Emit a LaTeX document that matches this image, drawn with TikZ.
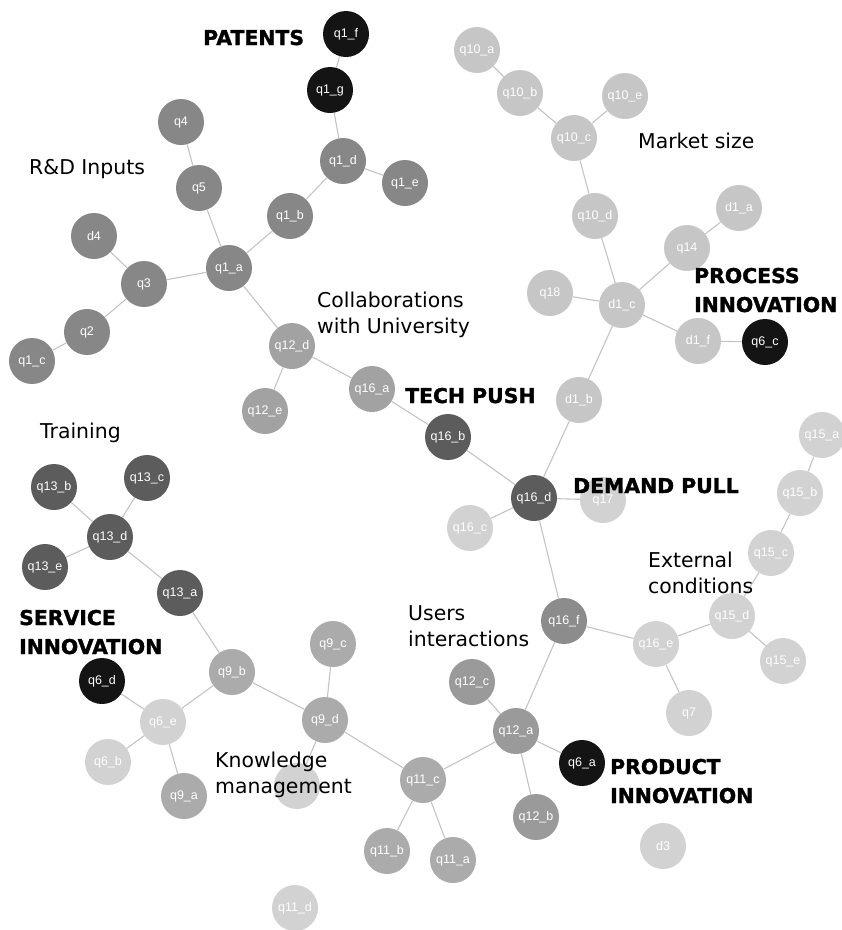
\documentclass[tikz,border=0pt]{standalone}
\usepackage{fontspec}
\setmainfont{DejaVu Sans}
\newfontfamily\nodefont{Liberation Sans}
\newfontfamily\heavyfont{DejaVu Sans Bold}[FakeBold=1.5]
\definecolor{cblack}{HTML}{141414}
\definecolor{cdark}{HTML}{5C5C5C}
\definecolor{cmid}{HTML}{878787}
\definecolor{cmidb}{HTML}{8C8C8C}
\definecolor{cmidc}{HTML}{9A9A9A}
\definecolor{cmidd}{HTML}{A2A2A2}
\definecolor{cmide}{HTML}{ABABAB}
\definecolor{clight}{HTML}{C6C6C6}
\definecolor{clighter}{HTML}{D2D2D2}
\definecolor{cedge}{HTML}{C4C4C4}
\tikzset{
  nd/.style={circle, minimum size=46pt, inner sep=0pt, text=white, font=\nodefont\fontsize{12.5}{13}\selectfont},
  lbl/.style={anchor=base west, align=left, inner sep=0pt, text=black, font=\fontsize{20.4}{26}\selectfont},
  blbl/.style={anchor=base west, align=left, inner sep=0pt, text=black, font=\heavyfont\fontsize{20.4}{29}\selectfont}
}
\begin{document}
\begin{tikzpicture}[x=1pt,y=-1pt]
\useasboundingbox (0,0) rectangle (842,930);
\fill[white] (0,0) rectangle (842,930);
% nodes
\node[nd, fill=cblack] (q1f) at (346,34) {q1\_f};
\node[nd, fill=cblack] (q1g) at (330,90) {q1\_g};
\node[nd, fill=cmid] (q1d) at (343,161) {q1\_d};
\node[nd, fill=cmid] (q1e) at (405,183) {q1\_e};
\node[nd, fill=cmid] (q1b) at (290,216) {q1\_b};
\node[nd, fill=cmid] (q1a) at (229,268) {q1\_a};
\node[nd, fill=cmid] (q5) at (199,188) {q5};
\node[nd, fill=cmid] (q4) at (181,122) {q4};
\node[nd, fill=cmid] (d4) at (94,236) {d4};
\node[nd, fill=cmid] (q3) at (144,284) {q3};
\node[nd, fill=cmid] (q2) at (87,332) {q2};
\node[nd, fill=cmid] (q1c) at (32,361) {q1\_c};
\node[nd, fill=cmidd] (q12d) at (292,346) {q12\_d};
\node[nd, fill=cmidd] (q12e) at (265,411) {q12\_e};
\node[nd, fill=cmidd] (q16a) at (372,389) {q16\_a};
\node[nd, fill=cdark] (q16b) at (448,437) {q16\_b};
\node[nd, fill=cdark] (q16d) at (534,498) {q16\_d};
\node[nd, fill=clighter] (q17) at (603,500) {q17};
\node[nd, fill=clighter] (q16c) at (470,528) {q16\_c};
\node[nd, fill=clight] (d1b) at (579,400) {d1\_b};
\node[nd, fill=clight] (d1c) at (622,305) {d1\_c};
\node[nd, fill=clight] (q18) at (550,293) {q18};
\node[nd, fill=clight] (q14) at (687,248) {q14};
\node[nd, fill=clight] (d1a) at (739,208) {d1\_a};
\node[nd, fill=clight] (d1f) at (698,341) {d1\_f};
\node[nd, fill=cblack] (q6c) at (765,342) {q6\_c};
\node[nd, fill=clight] (q10d) at (595,216) {q10\_d};
\node[nd, fill=clight] (q10c) at (574,138) {q10\_c};
\node[nd, fill=clight] (q10e) at (625,96) {q10\_e};
\node[nd, fill=clight] (q10b) at (520,93) {q10\_b};
\node[nd, fill=clight] (q10a) at (477,50) {q10\_a};
\node[nd, fill=cmidb] (q16f) at (564,621) {q16\_f};
\node[nd, fill=clighter] (q16e) at (656,644) {q16\_e};
\node[nd, fill=clighter] (q15d) at (732,616) {q15\_d};
\node[nd, fill=clighter] (q15e) at (783,661) {q15\_e};
\node[nd, fill=clighter] (q15c) at (771,553) {q15\_c};
\node[nd, fill=clighter] (q15b) at (800,493) {q15\_b};
\node[nd, fill=clighter] (q15a) at (822,435) {q15\_a};
\node[nd, fill=clighter] (q7) at (689,713) {q7};
\node[nd, fill=cmidc] (q12a) at (516,731) {q12\_a};
\node[nd, fill=cmidc] (q12c) at (472,682) {q12\_c};
\node[nd, fill=cmidc] (q12b) at (536,817) {q12\_b};
\node[nd, fill=cblack] (q6a) at (582,763) {q6\_a};
\node[nd, fill=cmide] (q11c) at (423,780) {q11\_c};
\node[nd, fill=cmide] (q11b) at (387,851) {q11\_b};
\node[nd, fill=cmide] (q11a) at (453,860) {q11\_a};
\node[nd, fill=clighter] (q11d) at (295,908) {q11\_d};
\node[nd, fill=clighter] (d3) at (663,846) {d3};
\node[nd, fill=cmide] (q9d) at (325,720) {q9\_d};
\node[nd, fill=cmide] (q9c) at (333,644) {q9\_c};
\node[nd, fill=clighter] (hid) at (297,786) {};
\node[nd, fill=cmide] (q9b) at (232,672) {q9\_b};
\node[nd, fill=cmide] (q9a) at (184,796) {q9\_a};
\node[nd, fill=clighter] (q6e) at (163,722) {q6\_e};
\node[nd, fill=clighter] (q6b) at (108,762) {q6\_b};
\node[nd, fill=cblack] (q6d) at (102,681) {q6\_d};
\node[nd, fill=cdark] (q13a) at (180,593) {q13\_a};
\node[nd, fill=cdark] (q13d) at (110,537) {q13\_d};
\node[nd, fill=cdark] (q13b) at (54,487) {q13\_b};
\node[nd, fill=cdark] (q13c) at (147,478) {q13\_c};
\node[nd, fill=cdark] (q13e) at (45,567) {q13\_e};
% edges
\path[draw=cedge, line width=1.1pt] (q1f)--(q1g) (q1g)--(q1d) (q1d)--(q1e) (q1d)--(q1b) (q1b)--(q1a)
  (q1a)--(q5) (q5)--(q4) (q1a)--(q3) (q3)--(d4) (q3)--(q2) (q2)--(q1c)
  (q1a)--(q12d) (q12d)--(q12e) (q12d)--(q16a) (q16a)--(q16b) (q16b)--(q16d)
  (q16d)--(q16c) (q16d)--(q17) (q16d)--(d1b) (d1b)--(d1c) (d1c)--(q18)
  (d1c)--(q14) (q14)--(d1a) (d1c)--(d1f) (d1f)--(q6c) (d1c)--(q10d)
  (q10d)--(q10c) (q10c)--(q10e) (q10c)--(q10b) (q10b)--(q10a)
  (q16d)--(q16f) (q16f)--(q16e) (q16e)--(q15d) (q15d)--(q15e) (q15d)--(q15c)
  (q15c)--(q15b) (q15b)--(q15a) (q16e)--(q7)
  (q16f)--(q12a) (q12a)--(q12c) (q12a)--(q6a) (q12a)--(q12b) (q12a)--(q11c)
  (q11c)--(q11b) (q11c)--(q11a) (q11c)--(q9d) (q9d)--(q9c) (q9d)--(hid)
  (q9d)--(q9b) (q9b)--(q13a) (q13a)--(q13d) (q13d)--(q13b) (q13d)--(q13c)
  (q13d)--(q13e) (q9b)--(q6e) (q6e)--(q6d) (q6e)--(q6b) (q6e)--(q9a);
% labels (base = baseline of the last line)
\node[blbl] (tpat) at (203,45) {PATENTS};
\node[lbl] (trd) at (29,174) {R\&D Inputs};
\node[lbl] (tcol) at (317,333) {Collaborations\\with University};
\node[lbl] (tmkt) at (638,148) {Market size};
\node[blbl] (tproc) at (694,312) {PROCESS\\INNOVATION};
\node[blbl] (ttech) at (405,403) {TECH PUSH};
\node[blbl] (tdem) at (573,493) {DEMAND PULL};
\node[lbl] (ttrain) at (40,438) {Training};
\node[lbl] (text) at (648,593) {External\\conditions};
\node[lbl] (tusers) at (408,646) {Users\\interactions};
\node[blbl] (tserv) at (19,654) {SERVICE\\INNOVATION};
\node[lbl] (tknow) at (215,793) {Knowledge\\management};
\node[blbl] (tprod) at (610,803) {PRODUCT\\INNOVATION};
\end{tikzpicture}
\end{document}
